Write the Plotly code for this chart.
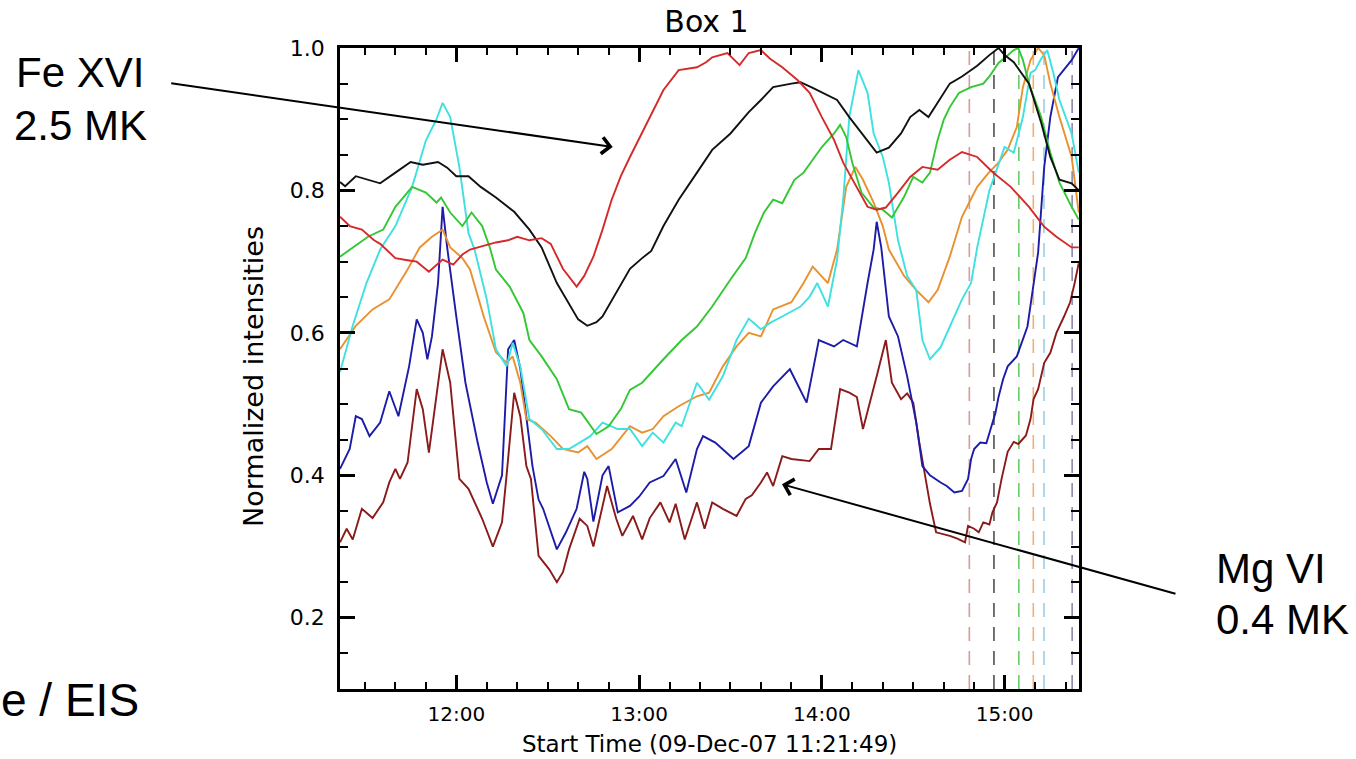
import plotly.graph_objects as go

DATE = "2007-12-09"

black_t = ["11:21:49","11:23:30","11:27","11:31","11:35","11:40","11:45","11:49","11:54","11:57","12:00","12:04","12:08","12:13","12:19","12:24","12:28","12:33","12:37","12:40","12:43","12:46","12:48","12:53","12:57","13:01","13:04","13:08","13:13","13:19","13:24","13:30","13:36","13:40","13:44","13:50","13:53","13:57","14:02","14:05","14:09","14:14","14:18","14:22","14:26","14:29","14:32","14:35","14:38","14:42","14:46","14:51","14:55","14:58","15:00","15:03","15:08","15:12","15:15","15:18","15:22","15:24:20"]
black_v = [0.812,0.806,0.82,0.815,0.81,0.825,0.84,0.836,0.84,0.832,0.82,0.82,0.805,0.79,0.77,0.745,0.72,0.67,0.64,0.619,0.61,0.615,0.623,0.66,0.69,0.705,0.715,0.75,0.787,0.825,0.857,0.88,0.91,0.927,0.945,0.95,0.952,0.944,0.934,0.927,0.903,0.875,0.853,0.86,0.88,0.903,0.913,0.903,0.923,0.95,0.96,0.975,0.99,1.0,0.99,0.98,0.95,0.895,0.847,0.815,0.81,0.80]

red_t = ["11:21:49","11:25","11:29","11:33","11:35","11:38","11:40","11:44","11:47","11:51","11:55:30","11:59","12:02","12:04:30","12:07","12:13","12:17","12:20","12:24","12:28","12:31","12:33","12:35","12:39:30","12:42","12:45","12:48","12:51","12:54","12:57","13:02","13:05","13:08","13:13","13:19","13:22","13:24","13:29","13:33","13:36","13:40","13:43","13:47","13:52","13:56","14:00","14:04","14:07","14:12","14:15","14:18","14:21","14:25","14:29","14:33","14:38","14:42","14:46","14:51","14:56","15:02","15:08","15:13","15:17","15:22","15:24:20"]
red_v = [0.763,0.75,0.745,0.73,0.725,0.713,0.705,0.702,0.70,0.686,0.703,0.696,0.71,0.717,0.72,0.727,0.73,0.735,0.73,0.733,0.725,0.707,0.69,0.665,0.68,0.707,0.745,0.787,0.82,0.847,0.889,0.915,0.941,0.969,0.973,0.98,0.987,0.993,0.976,0.993,0.997,0.985,0.973,0.955,0.937,0.903,0.871,0.839,0.80,0.777,0.773,0.776,0.797,0.819,0.833,0.829,0.843,0.854,0.847,0.826,0.805,0.777,0.749,0.735,0.72,0.72]

cyan_t = ["11:21:49","11:26","11:30:30","11:35","11:40","11:45:30","11:50","11:53:30","11:55:30","11:58","12:01","12:04","12:06","12:10","12:13","12:16:30","12:18:30","12:21","12:24","12:28","12:33","12:37","12:44","12:48","12:53","12:57","13:01","13:04:30","13:08","13:12","13:14","13:19","13:23","13:27:30","13:32","13:36","13:40","13:43","13:47","13:53","13:56","13:58:30","14:02","14:05","14:07","14:09","14:12","14:15","14:17","14:20","14:22","14:25","14:28","14:31","14:33","14:35:30","14:39","14:42","14:46","14:49","14:51","14:55","15:00","15:03","15:06","15:08:30","15:10","15:12","15:14","15:16","15:18","15:22","15:24:20"]
cyan_v = [0.545,0.61,0.67,0.717,0.75,0.805,0.87,0.90,0.923,0.903,0.833,0.74,0.717,0.647,0.577,0.553,0.586,0.553,0.479,0.465,0.437,0.437,0.455,0.474,0.465,0.465,0.441,0.46,0.446,0.474,0.469,0.53,0.506,0.539,0.59,0.62,0.605,0.614,0.623,0.637,0.651,0.67,0.637,0.703,0.787,0.903,0.969,0.937,0.88,0.847,0.811,0.73,0.68,0.66,0.59,0.563,0.58,0.609,0.647,0.67,0.72,0.80,0.861,0.853,0.903,0.965,0.969,0.985,0.997,0.965,0.927,0.88,0.825]

green_t = ["11:21:49","11:25","11:31","11:36","11:40","11:45:30","11:50","11:53:30","11:55","11:58","12:02","12:05","12:08:30","12:11","12:13","12:17:30","12:22","12:24","12:28","12:33","12:37","12:41","12:44","12:46","12:50","12:54","12:57","13:01","13:08","13:14","13:19","13:24","13:30","13:35","13:38","13:41","13:44","13:47","13:51","13:54","13:57","14:00","14:04","14:06","14:08","14:10","14:13","14:17","14:20","14:23","14:27","14:30","14:33","14:35:30","14:38","14:40","14:42","14:45","14:49","14:53","14:55","14:58","15:00","15:03","15:04:30","15:06","15:08","15:12","15:15","15:18","15:22","15:24:20"]
green_v = [0.707,0.717,0.735,0.745,0.777,0.805,0.797,0.783,0.79,0.769,0.75,0.769,0.75,0.72,0.689,0.665,0.628,0.59,0.567,0.535,0.493,0.488,0.469,0.458,0.469,0.493,0.52,0.53,0.563,0.59,0.609,0.637,0.675,0.705,0.74,0.769,0.787,0.782,0.815,0.825,0.843,0.861,0.88,0.892,0.875,0.839,0.797,0.776,0.773,0.762,0.791,0.819,0.811,0.825,0.871,0.899,0.917,0.937,0.945,0.95,0.96,0.979,0.986,0.997,1.0,0.983,0.95,0.903,0.853,0.811,0.777,0.759]

orange_t = ["11:21:49","11:27","11:32:30","11:38","11:44","11:48","11:52","11:55:30","11:58","12:02","12:04:30","12:09","12:13","12:16:30","12:18:30","12:21","12:23","12:26","12:31","12:35","12:40","12:43","12:46","12:51","12:57","13:01","13:04:30","13:08","13:13","13:19","13:23","13:27:30","13:32","13:36","13:40","13:44","13:50","13:54","13:57","14:02","14:05","14:08","14:11","14:13:30","14:17","14:20","14:22","14:27","14:31","14:35","14:38","14:42","14:46","14:51","14:55","14:58","15:01","15:04","15:06","15:08:30","15:11","15:13","15:15","15:18","15:22","15:24:20"]
orange_v = [0.577,0.61,0.633,0.647,0.689,0.72,0.735,0.745,0.72,0.705,0.689,0.623,0.573,0.558,0.567,0.53,0.479,0.474,0.455,0.437,0.432,0.441,0.423,0.437,0.469,0.46,0.465,0.483,0.497,0.511,0.516,0.553,0.581,0.60,0.595,0.633,0.643,0.67,0.693,0.67,0.717,0.805,0.833,0.815,0.783,0.75,0.717,0.68,0.66,0.643,0.66,0.707,0.763,0.805,0.826,0.839,0.857,0.889,0.945,0.983,1.0,0.99,0.95,0.903,0.847,0.769]

blue_t = ["11:21:49","11:25","11:27","11:29","11:31:30","11:35","11:38","11:41","11:44:30","11:47","11:49","11:50:30","11:52","11:54","11:55:30","11:57","12:00","12:03","12:07","12:10","12:12","12:15","12:17","12:19","12:21","12:23","12:25","12:27","12:28:30","12:33","12:36","12:39:30","12:42","12:43","12:45","12:48","12:50","12:53","12:57","13:00","13:03:30","13:08","13:12","13:15:30","13:19","13:21","13:25","13:31","13:36","13:40","13:44","13:49:30","13:55","13:59","14:04","14:07","14:11:30","14:15","14:17","14:18","14:19:30","14:22","14:25","14:28","14:31","14:33","14:35:30","14:39","14:41","14:43:30","14:46","14:48","14:49","14:50","14:52","14:54","14:55","14:57","14:58","14:59:30","15:01","15:04","15:07:30","15:09:30","15:11","15:13","15:15","15:17:30","15:19:30","15:22","15:24:20"]
blue_v = [0.409,0.437,0.483,0.479,0.455,0.474,0.518,0.483,0.553,0.619,0.60,0.563,0.595,0.67,0.777,0.72,0.623,0.53,0.446,0.39,0.36,0.40,0.577,0.59,0.55,0.483,0.413,0.366,0.353,0.296,0.32,0.353,0.405,0.395,0.335,0.40,0.413,0.348,0.357,0.37,0.39,0.399,0.423,0.376,0.437,0.455,0.446,0.423,0.441,0.502,0.525,0.549,0.502,0.59,0.581,0.59,0.581,0.67,0.717,0.756,0.72,0.623,0.595,0.539,0.474,0.413,0.40,0.39,0.385,0.376,0.378,0.395,0.423,0.437,0.446,0.445,0.46,0.488,0.51,0.535,0.553,0.567,0.609,0.67,0.713,0.833,0.903,0.959,0.969,0.983,1.0]

brown_t = ["11:21:49","11:24","11:26","11:29","11:32:30","11:36","11:38","11:40","11:41:30","11:44","11:47","11:49","11:51","11:55:30","11:58","12:01","12:04","12:08:30","12:12","12:15","12:16:30","12:19","12:21","12:23","12:24:30","12:27","12:30:30","12:33","12:35","12:37","12:40:30","12:43","12:45","12:47","12:49:30","12:52:30","12:54:30","12:58","13:01","13:03:30","13:07","13:10","13:12","13:15","13:19","13:21:30","13:24","13:27:30","13:32","13:35","13:37","13:40","13:42","13:44","13:47","13:50","13:56","13:59","14:03","14:06","14:09","14:11:30","14:13:30","14:18","14:21","14:23","14:26","14:28","14:30","14:32","14:34","14:35:30","14:37:30","14:42","14:44:30","14:47","14:48","14:50","14:51:30","14:53","14:55","14:56","14:57:30","14:59","15:01","15:03","15:04:30","15:07","15:08:30","15:09:30","15:11","15:13","15:15","15:17","15:19:30","15:21:30","15:23","15:24:20"]
brown_v = [0.306,0.325,0.31,0.353,0.34,0.362,0.39,0.409,0.395,0.418,0.521,0.493,0.432,0.577,0.53,0.395,0.381,0.339,0.30,0.334,0.40,0.516,0.483,0.413,0.395,0.287,0.268,0.25,0.264,0.296,0.339,0.329,0.30,0.339,0.385,0.339,0.315,0.343,0.31,0.34,0.362,0.334,0.36,0.31,0.362,0.325,0.362,0.353,0.343,0.367,0.372,0.39,0.404,0.385,0.427,0.423,0.42,0.437,0.437,0.521,0.516,0.51,0.465,0.539,0.59,0.53,0.507,0.515,0.502,0.446,0.395,0.36,0.32,0.315,0.311,0.306,0.329,0.325,0.32,0.334,0.331,0.348,0.362,0.395,0.433,0.447,0.444,0.456,0.479,0.507,0.521,0.558,0.572,0.60,0.623,0.643,0.67,0.698]

marker_t = ["14:48:25", "14:56:30", "15:04:40", "15:09:25", "15:12:55", "15:22:10"]
marker_colors = ["#d89a9a", "#505050", "#66cc66", "#f0b070", "#9ccfe8", "#8c8cac"]

y_range = [0.1, 1.0]


def ts(lst):
    return [f"{DATE} {t}" for t in lst]


fig = go.Figure()

for t, c in zip(marker_t, marker_colors):
    fig.add_trace(go.Scatter(x=ts([t, t]), y=y_range, mode="lines",
                             line=dict(color=c, width=1.6, dash="14px,10px"),
                             hoverinfo="skip", showlegend=False))

series = [
    (brown_t, brown_v, "#8b1a1a"),
    (blue_t, blue_v, "#1c1ca8"),
    (orange_t, orange_v, "#e8912e"),
    (cyan_t, cyan_v, "#3fe0e0"),
    (green_t, green_v, "#33c733"),
    (black_t, black_v, "#111111"),
    (red_t, red_v, "#d42a2a"),
]
for t, v, c in series:
    fig.add_trace(go.Scatter(x=ts(t), y=v, mode="lines",
                             line=dict(color=c, width=1.9), showlegend=False))

axis_font = dict(family="DejaVu Sans", color="black")

fig.update_layout(
    width=1356, height=759,
    margin=dict(l=340, r=277, t=48, b=70, pad=0),
    paper_bgcolor="white", plot_bgcolor="white",
    showlegend=False,
    font=dict(family="DejaVu Sans", color="black"),
    title=dict(text="Box 1", x=(706.5) / 1356, xanchor="center",
               y=1 - 21.5 / 759, yanchor="middle",
               font=dict(family="DejaVu Sans", size=30, color="black")),
    xaxis=dict(
        type="date",
        range=[f"{DATE} 11:21:49", f"{DATE} 15:24:25"],
        tick0=f"{DATE} 12:00", dtick=3600000, tickformat="%H:%M",
        ticks="inside", ticklen=14, tickwidth=2.5, tickcolor="black",
        showline=True, linewidth=2.5, linecolor="black", mirror="ticks",
        showgrid=False, zeroline=False,
        tickfont=dict(size=20, **axis_font),
        ticklabelstandoff=5,
        minor=dict(ticks="inside", ticklen=7, tickwidth=2, tickcolor="black",
                   dtick=600000, showgrid=False),
    ),
    yaxis=dict(
        range=y_range, tick0=0.2, dtick=0.2, tickformat=".1f",
        ticks="inside", ticklen=15, tickwidth=2.5, tickcolor="black",
        showline=True, linewidth=2.5, linecolor="black", mirror="ticks",
        showgrid=False, zeroline=False,
        tickfont=dict(size=22, **axis_font),
        ticklabelstandoff=8,
        minor=dict(ticks="inside", ticklen=8, tickwidth=2, tickcolor="black",
                   dtick=0.05, showgrid=False),
    ),
)

W = 1356 - 340 - 277
H = 759 - 48 - 70


def px(xp):
    return (xp - 340) / W


def py(yp):
    return 1 - (yp - 48) / H


ann = []
ann.append(dict(text="Normalized intensities", textangle=-90, x=px(253), y=py(377),
                xref="paper", yref="paper", showarrow=False, xanchor="center", yanchor="middle",
                font=dict(family="DejaVu Sans", size=27, color="black")))
ann.append(dict(text="Start Time (09-Dec-07 11:21:49)", x=px(709), y=py(744),
                xref="paper", yref="paper", showarrow=False, xanchor="center", yanchor="middle",
                font=dict(family="DejaVu Sans", size=23, color="black")))

big = dict(family="Liberation Sans", size=42, color="black")
for txt, xl, yc in [("Fe XVI", 14, 72), ("2.5 MK", 12, 125), ("Mg VI", 1214, 568), ("0.4 MK", 1214, 619)]:
    ann.append(dict(text=txt, x=px(xl), y=py(yc), xref="paper", yref="paper", showarrow=False,
                    xanchor="left", yanchor="middle", font=big))
ann.append(dict(text="e / EIS", x=px(-1), y=py(700), xref="paper", yref="paper", showarrow=False,
                xanchor="left", yanchor="middle", font=dict(family="Liberation Sans", size=46, color="black")))

# arrows (tip on data, tail offset in pixels)
ann.append(dict(text="", x=f"{DATE} 12:51:20", y=0.861, xref="x", yref="y",
                showarrow=True, ax=-443, ay=-64, arrowhead=4, arrowsize=1.6, arrowwidth=2,
                arrowcolor="black", standoff=0))
ann.append(dict(text="", x=f"{DATE} 13:46:55", y=0.3875, xref="x", yref="y",
                showarrow=True, ax=395, ay=110, arrowhead=4, arrowsize=1.6, arrowwidth=2,
                arrowcolor="black", standoff=0))

fig.update_layout(annotations=ann)

fig.write_html("out.html")
